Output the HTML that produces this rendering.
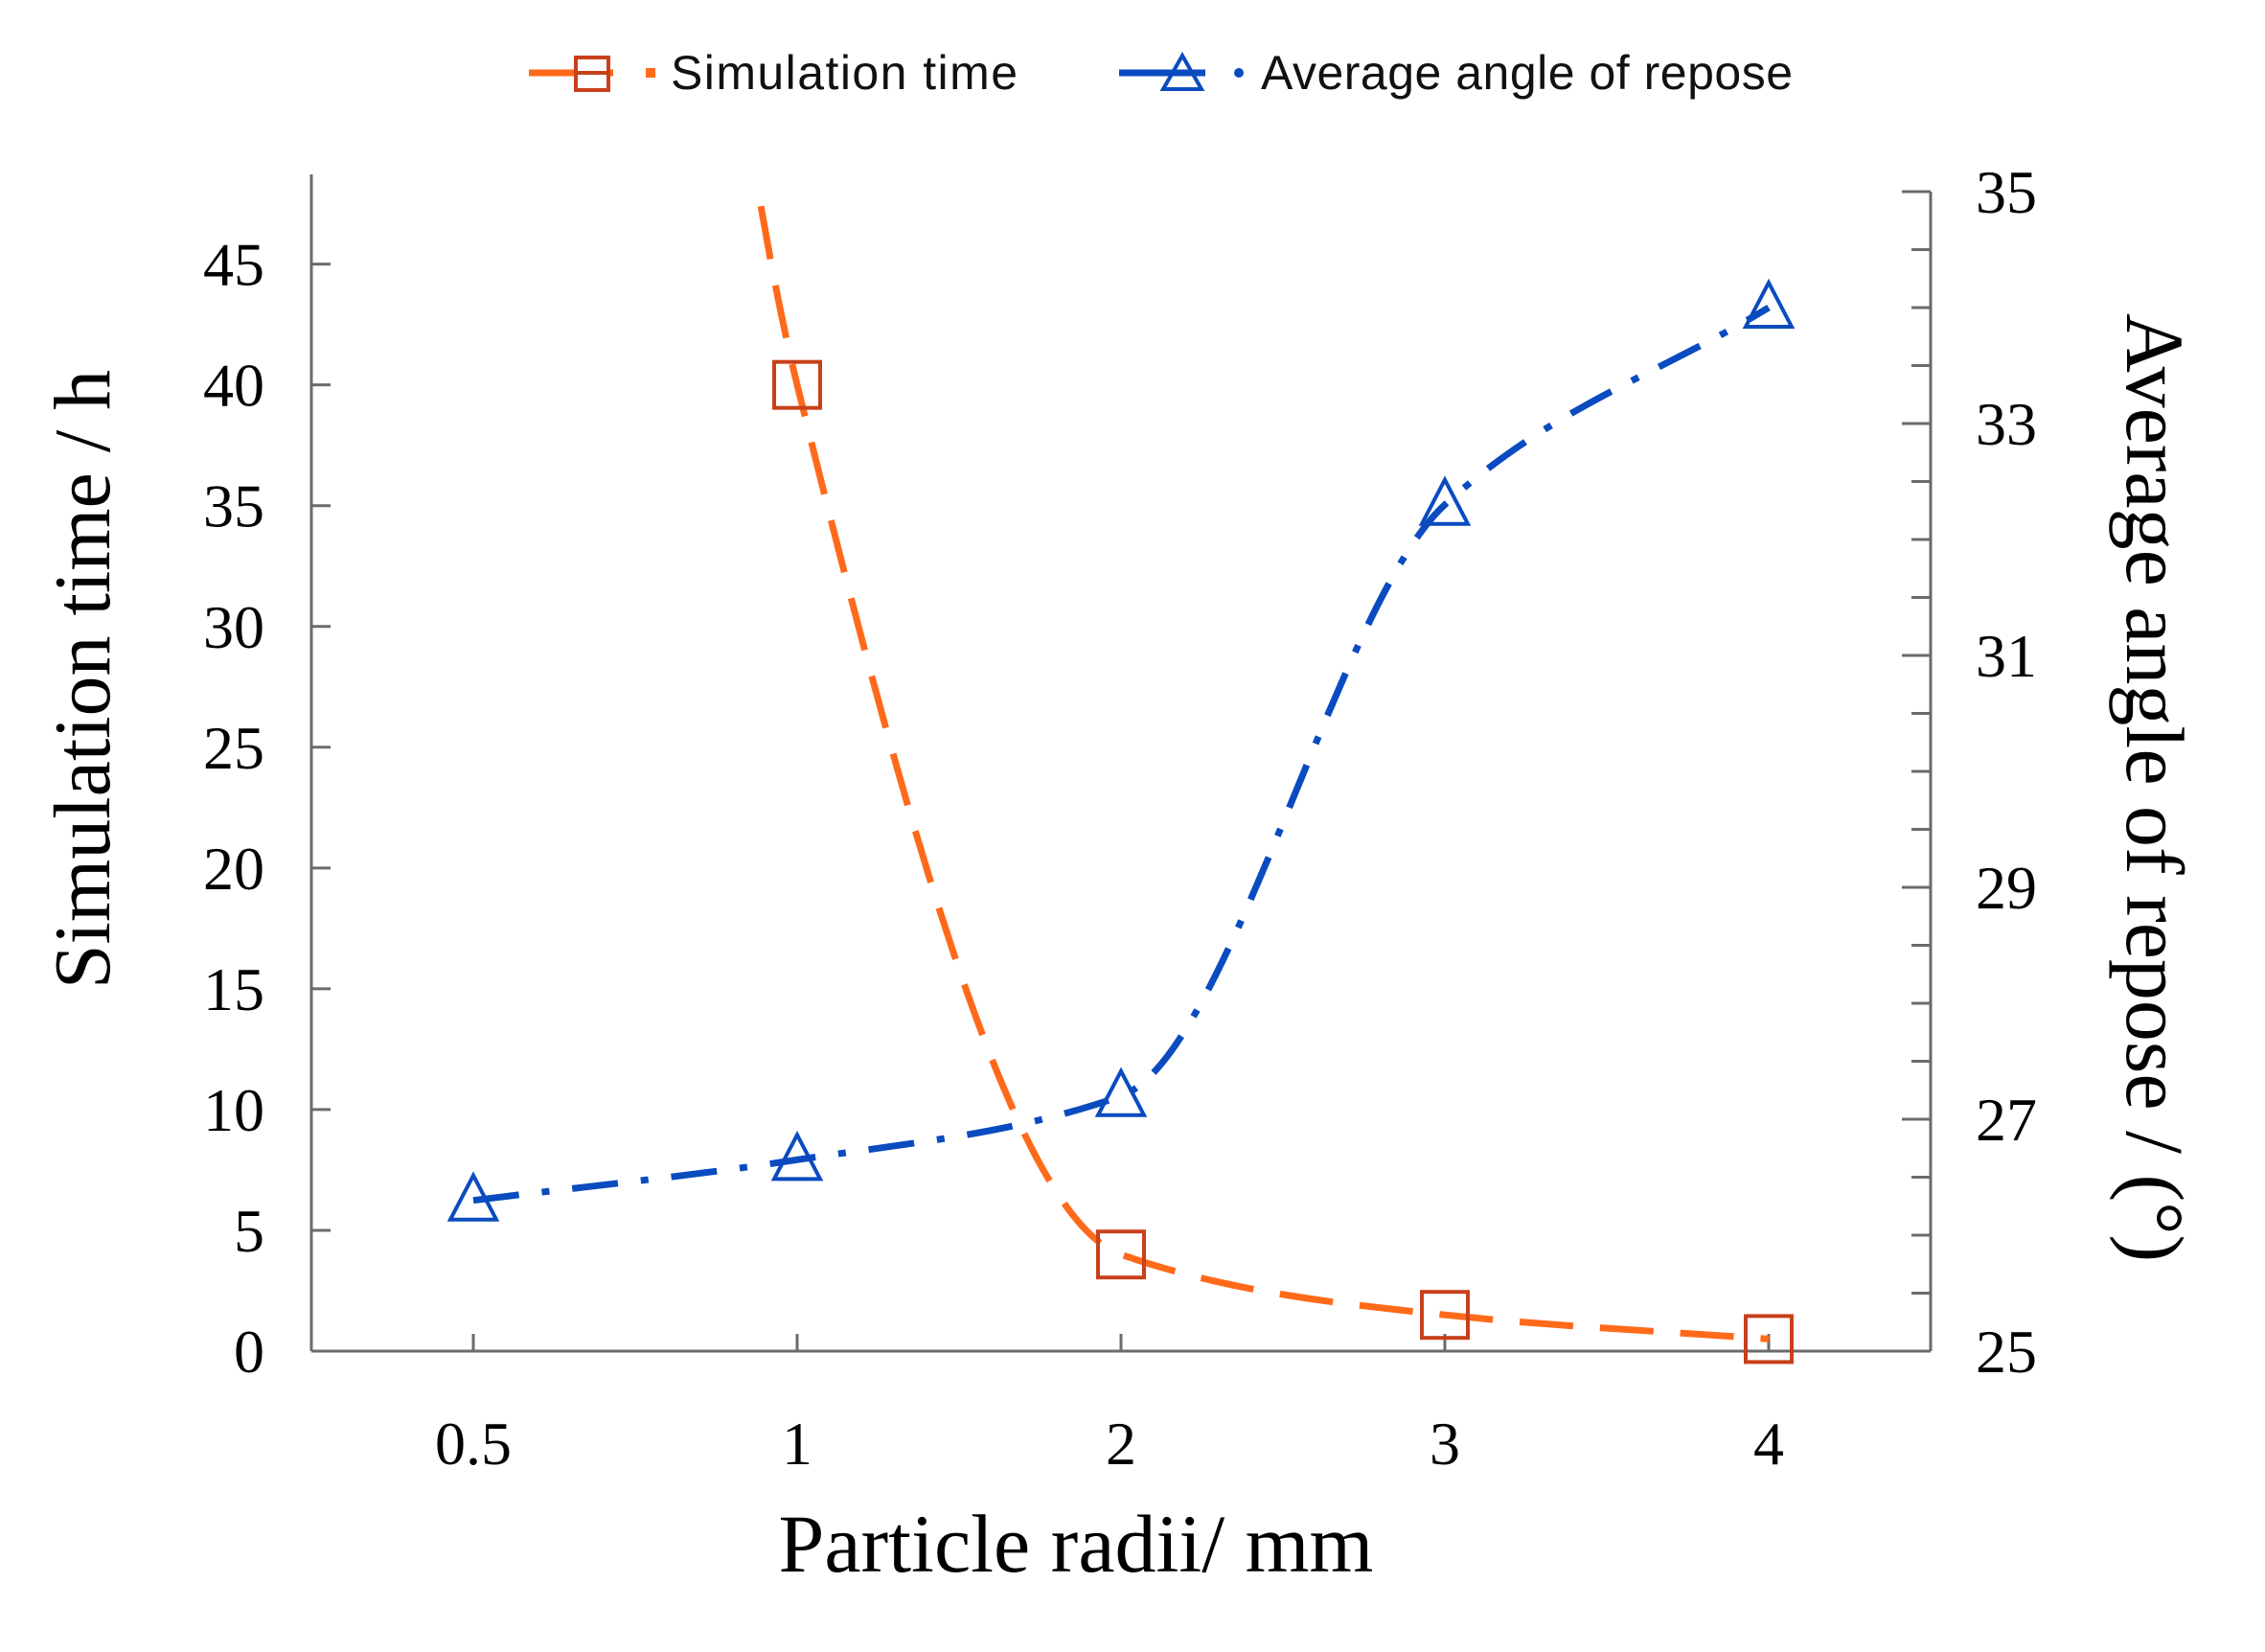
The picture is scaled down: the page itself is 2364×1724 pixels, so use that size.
<!DOCTYPE html>
<html><head><meta charset="utf-8"><style>
html,body{margin:0;padding:0;background:#fff;}
svg{display:block;}
</style></head><body>
<svg id="chart" width="2364" height="1724" viewBox="0 0 2364 1724" xmlns="http://www.w3.org/2000/svg">
<rect x="0" y="0" width="2364" height="1724" fill="#fff"/>
<g id="legend">
  <g>
    <line x1="552" y1="76" x2="640" y2="76" stroke="#FF6A1A" stroke-width="7"/>
    <rect x="601" y="60" width="34" height="34" fill="#fff" stroke="#C8401A" stroke-width="4"/>
    <line x1="601" y1="76" x2="635" y2="76" stroke="#C8401A" stroke-width="4"/>
    <rect x="674" y="71" width="10" height="10" fill="#FF6A1A"/>
    <text x="700" y="93" font-family="Liberation Sans, sans-serif" font-size="50" textLength="362" fill="#111">Simulation time</text>
  </g>
  <g>
    <line x1="1168" y1="76" x2="1258" y2="76" stroke="#0A4BC0" stroke-width="7"/>
    <path d="M1234 58 L1254 93 L1214 93 Z" fill="none" stroke="#0A4BC0" stroke-width="4"/>
    <circle cx="1293" cy="76" r="5" fill="#0A4BC0"/>
    <text x="1316" y="93" font-family="Liberation Sans, sans-serif" font-size="50" textLength="555" fill="#111">Average angle of repose</text>
  </g>
</g>
<g id="axes"></g>
<g id="series"></g>
<text x="1123" y="1640" text-anchor="middle" font-family="Liberation Serif, serif" font-size="86" fill="#000">Particle radii/ mm</text>
<text transform="translate(114,709) rotate(-90)" text-anchor="middle" font-family="Liberation Serif, serif" font-size="84" fill="#000">Simulation time / h</text>
<text transform="translate(2220,822) rotate(90)" text-anchor="middle" font-family="Liberation Serif, serif" font-size="86" fill="#000">Average angle of repose / (°)</text>
</svg>
<script>
const categories = ["0.5","1","2","3","4"];
const simTime = [150, 40, 4, 1.5, 0.5];
const angle = [26.3, 26.65, 27.2, 32.3, 34.0];
const leftTicks = [0,5,10,15,20,25,30,35,40,45];
const rightTicks = [25,27,29,31,33,35];

const NS = "http://www.w3.org/2000/svg";
const L = 325, R = 2015, T = 200, B = 1410;
const leftMax = 48;
const band = (R - L) / categories.length;
const xPos = i => L + band * (i + 0.5);
const yLeft = v => B - (v / leftMax) * (B - T);
const yRight = v => B - ((v - 25) / 10) * (B - T);

function mk(tag, attrs, parent) {
  const e = document.createElementNS(NS, tag);
  for (const k in attrs) e.setAttribute(k, attrs[k]);
  parent.appendChild(e);
  return e;
}
const axes = document.getElementById('axes');
const series = document.getElementById('series');
const ax = "#6b6b6b";

const defs = mk('defs', {}, document.getElementById('chart'));
const cp = mk('clipPath', {id: 'plotclip'}, defs);
mk('rect', {x: L, y: T, width: R - L, height: B - T}, cp);

const la = mk('line', {x1: L, y1: T - 18, x2: L, y2: B, stroke: ax, 'stroke-width': 3}, axes);


const ra = mk('line', {x1: R, y1: T, x2: R, y2: B, stroke: ax, 'stroke-width': 3}, axes);


const xa = mk('line', {x1: L, y1: B, x2: R, y2: B, stroke: ax, 'stroke-width': 3}, axes);



leftTicks.forEach(v => {
  const y = yLeft(v);
  mk('line', {x1: L, y1: y, x2: L + 20, y2: y, stroke: ax, 'stroke-width': 3}, axes);
  const t = mk('text', {x: 276, y: y + 22, 'text-anchor': 'end', 'font-family': 'Liberation Serif, serif', 'font-size': 64, fill: '#000'}, axes);
  t.textContent = v;
  
  
});
for (let v = 25; v <= 35.001; v += 0.5) {
  const y = yRight(v);
  const major = Math.abs(v - Math.round(v)) < 0.01 && Math.round(v) % 2 === 1;
  mk('line', {x1: R - (major ? 30 : 20), y1: y, x2: R, y2: y, stroke: ax, 'stroke-width': 3}, axes);
}
rightTicks.forEach(v => {
  const y = yRight(v);
  const t = mk('text', {x: 2062, y: y + 22, 'text-anchor': 'start', 'font-family': 'Liberation Serif, serif', 'font-size': 64, fill: '#000'}, axes);
  t.textContent = v;
  
  
});
categories.forEach((c, i) => {
  const x = xPos(i);
  mk('line', {x1: x, y1: B - 18, x2: x, y2: B, stroke: ax, 'stroke-width': 3}, axes);
  const t = mk('text', {x: x, y: 1528, 'text-anchor': 'middle', 'font-family': 'Liberation Serif, serif', 'font-size': 64, fill: '#000'}, axes);
  t.textContent = c;
  
  
});

// monotone cubic (Fritsch-Carlson) in pixel space
function smooth(pts) {
  const n = pts.length;
  const d = [], m = [];
  for (let i = 0; i < n - 1; i++) d.push((pts[i+1][1] - pts[i][1]) / (pts[i+1][0] - pts[i][0]));
  m[0] = d[0]; m[n-1] = d[n-2];
  for (let i = 1; i < n - 1; i++) {
    if (d[i-1] * d[i] <= 0) m[i] = 0;
    else m[i] = 2 / (1 / d[i-1] + 1 / d[i]);
  }
  let s = `M${pts[0][0]},${pts[0][1]}`;
  for (let i = 0; i < n - 1; i++) {
    const h = pts[i+1][0] - pts[i][0];
    s += ` C${pts[i][0] + h/3},${pts[i][1] + m[i]*h/3} ${pts[i+1][0] - h/3},${pts[i+1][1] - m[i+1]*h/3} ${pts[i+1][0]},${pts[i+1][1]}`;
  }
  return s;
}

const simPts = simTime.map((v, i) => [xPos(i), yLeft(v)]);
const sl = mk('path', {d: smooth(simPts), fill: 'none', stroke: '#FF6A1A', 'stroke-width': 7, 'stroke-dasharray': '56 28', 'clip-path': 'url(#plotclip)'}, series);


simPts.forEach((p, i) => {
  if (simTime[i] > leftMax) return;
  const m = mk('rect', {x: p[0] - 24, y: p[1] - 24, width: 48, height: 48, fill: 'none', stroke: '#C8401A', 'stroke-width': 4}, series);
  
  
});

const angPts = angle.map((v, i) => [xPos(i), yRight(v)]);
const al = mk('path', {d: smooth(angPts), fill: 'none', stroke: '#0A4BC0', 'stroke-width': 7, 'stroke-dasharray': '48 24 8 24'}, series);


angPts.forEach(p => {
  const m = mk('path', {d: `M${p[0]},${p[1] - 26} L${p[0] + 24},${p[1] + 20} L${p[0] - 24},${p[1] + 20} Z`, fill: 'none', stroke: '#0A4BC0', 'stroke-width': 4}, series);
  
  
});
</script>
</body></html>
